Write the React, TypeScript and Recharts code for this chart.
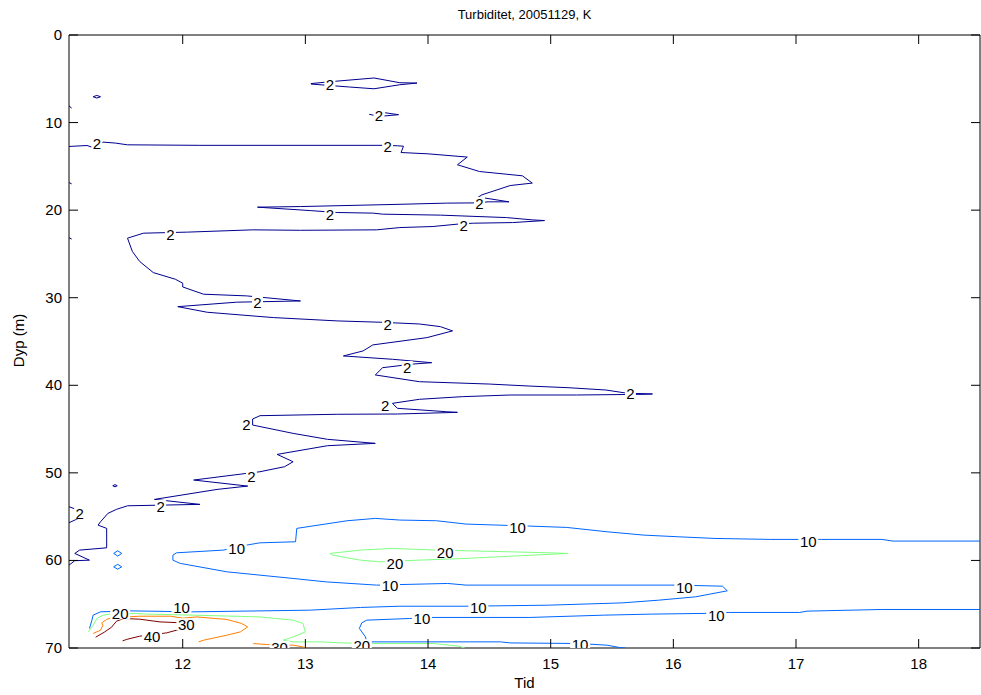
import { ComposedChart, Line, Scatter, XAxis, YAxis, ReferenceArea } from "recharts";

type Pt = [number, number];

const xTicks = [12, 13, 14, 15, 16, 17, 18];
const yTicks = [0, 10, 20, 30, 40, 50, 60, 70];

// level 2 contour pieces
const level2Main: Pt[] = [
  [11.073, 12.73], [11.22, 12.62], [11.27, 12.85], [11.35, 12.23], [11.45, 12.34], [11.55, 12.54],
  [12.14, 12.6], [13.63, 12.6], [13.75, 12.65], [13.8, 12.7], [13.78, 13.42], [14.0, 13.57],
  [14.32, 13.94], [14.24, 14.82], [14.42, 15.59], [14.77, 16.08], [14.85, 16.91], [14.67, 17.19],
  [14.44, 18.25], [14.41, 18.5], [14.66, 19.05], [14.49, 19.05], [14.41, 19.17], [14.15, 19.2],
  [13.69, 19.36], [12.96, 19.59], [12.61, 19.66], [13.04, 20.05], [13.26, 20.27], [13.55, 20.34],
  [13.63, 20.46], [14.1, 20.57], [14.64, 20.85], [14.85, 21.11], [14.95, 21.19], [14.69, 21.42],
  [14.37, 21.49], [14.26, 21.57], [14.04, 21.87], [13.77, 21.99], [13.58, 22.25], [12.96, 22.3],
  [12.57, 22.25], [12.04, 22.51], [11.68, 22.63], [11.55, 23.2], [11.59, 24.73], [11.65, 25.87],
  [11.76, 27.13], [11.94, 27.89], [12.0, 28.34], [12.0, 28.77], [12.17, 29.6], [12.52, 29.79],
  [12.96, 30.37], [12.44, 30.51], [11.96, 31.02], [12.2, 31.66], [12.74, 32.27], [13.26, 32.65],
  [13.61, 32.8], [13.93, 33.0], [14.1, 33.3], [14.2, 33.79], [13.99, 34.56], [13.55, 35.39],
  [13.47, 36.08], [13.31, 36.65], [13.71, 37.03], [14.03, 37.42], [13.88, 37.57], [13.63, 37.99],
  [13.57, 38.82], [13.93, 39.59], [14.5, 39.86], [14.83, 40.09], [15.15, 40.28], [15.45, 40.54],
  [15.62, 40.9], [15.83, 40.99], [15.77, 41.03], [15.21, 41.11], [14.67, 41.11], [14.28, 41.3],
  [13.93, 41.6], [13.71, 42.06], [13.75, 42.63], [14.15, 43.02], [14.24, 43.09], [13.75, 43.28],
  [13.26, 43.31], [12.63, 43.47], [12.57, 43.85], [12.57, 44.54], [12.9, 45.49], [13.18, 46.17],
  [13.57, 46.63], [13.18, 46.9], [12.77, 47.89], [12.9, 48.73], [12.83, 49.3], [12.63, 49.87],
  [12.09, 50.82], [12.53, 51.51], [12.28, 51.89], [11.77, 53.03], [12.14, 53.6], [11.55, 53.76],
  [11.46, 54.17], [11.39, 54.63], [11.33, 55.59], [11.31, 55.97], [11.38, 56.34], [11.38, 58.56],
  [11.16, 58.82], [11.12, 59.2], [11.24, 59.97], [11.12, 60.03], [11.073, 60.54],
];
const level2Top: Pt[] = [
  [13.045, 5.55], [13.23, 5.3], [13.56, 4.91], [13.77, 5.45], [13.91, 5.49],
  [13.77, 5.68], [13.56, 6.14], [13.36, 5.94], [13.045, 5.6],
];
const level2Small: Pt[] = [[13.52, 9.05], [13.6, 9.3], [13.76, 9.1], [13.65, 8.88]];
const level2Dot: Pt[] = [[11.27, 7.05], [11.3, 6.9], [11.33, 7.05], [11.3, 7.2], [11.27, 7.05]];
const level2EdgeA: Pt[] = [[11.073, 8.1], [11.095, 8.35]];
const level2EdgeB: Pt[] = [[11.073, 16.85], [11.095, 17.0]];
const level2EdgeC: Pt[] = [[11.073, 23.15], [11.095, 23.3]];
const level2Left: Pt[] = [[11.073, 53.87], [11.149, 54.25], [11.149, 55.2], [11.073, 55.7]];
const level2Blip: Pt[] = [[11.43, 51.47], [11.448, 51.35], [11.466, 51.47], [11.448, 51.6], [11.43, 51.47]];

// level 10
const level10Upper: Pt[] = [
  [18.5, 57.79], [17.79, 57.79], [17.7, 57.6], [17.21, 57.6], [16.79, 57.6], [16.34, 57.49],
  [16.04, 57.3], [15.76, 57.11], [15.46, 56.73], [15.13, 56.23], [14.83, 56.08], [14.31, 55.85],
  [14.07, 55.47], [13.77, 55.39], [13.57, 55.2], [13.34, 55.47], [12.93, 56.34], [12.92, 57.87],
  [12.63, 57.99], [12.52, 58.25], [12.33, 58.82], [11.95, 59.13], [11.92, 59.39], [11.92, 59.97],
  [11.98, 60.34], [12.36, 61.3], [12.9, 62.06], [13.17, 62.45], [13.58, 62.82], [14.16, 62.63],
  [14.31, 62.82], [16.04, 62.82], [16.4, 62.94], [16.44, 63.47], [16.18, 64.16], [15.88, 64.54],
  [15.58, 64.85], [14.98, 65.11], [14.31, 65.23], [13.77, 65.23], [13.45, 65.37], [13.04, 65.68],
  [12.09, 65.87], [11.57, 65.76], [11.33, 65.87], [11.27, 66.25], [11.26, 66.82], [11.24, 67.77],
];
const level10Lower: Pt[] = [
  [18.5, 65.6], [17.7, 65.6], [17.09, 65.79], [17.03, 65.94], [16.46, 65.94], [16.25, 66.05],
  [15.82, 66.13], [15.43, 66.25], [14.83, 66.51], [14.04, 66.51], [13.85, 66.63], [13.5, 66.82],
  [13.46, 67.13], [13.44, 67.77], [13.49, 68.73], [13.5, 69.3], [13.99, 69.3], [14.59, 69.3],
  [14.67, 69.42], [15.24, 69.49], [15.46, 69.68], [15.56, 69.94], [15.61, 70],
];
const level10DiamondA: Pt[] = [[11.437, 59.2], [11.47, 58.9], [11.503, 59.2], [11.47, 59.5], [11.437, 59.2]];
const level10DiamondB: Pt[] = [[11.437, 60.73], [11.47, 60.45], [11.503, 60.73], [11.47, 61.0], [11.437, 60.73]];

// level 20
const level20Loop: Pt[] = [
  [13.2, 59.2], [13.45, 58.82], [13.71, 58.63], [14.07, 58.82], [14.31, 58.9], [14.68, 59.02],
  [14.98, 59.13], [15.14, 59.2], [14.98, 59.31], [14.68, 59.51], [14.31, 59.77], [13.92, 59.97],
  [13.61, 60.16], [13.45, 59.97], [13.22, 59.39], [13.2, 59.2],
];
const level20Bottom: Pt[] = [
  [11.23, 68.16], [11.27, 67.39], [11.3, 66.63], [11.35, 66.25], [11.41, 66.13], [11.6, 66.05],
  [11.71, 66.13], [12.09, 66.25], [12.63, 66.45], [12.9, 66.82], [12.98, 67.2], [13.0, 68.16],
  [12.9, 68.73], [12.82, 69.11], [12.9, 69.3], [13.12, 69.3], [13.31, 69.42], [13.55, 69.49],
  [14.04, 69.49], [14.26, 69.8], [14.28, 69.94], [14.3, 70],
];

// level 30
const level30Loop: Pt[] = [
  [11.27, 68.34], [11.33, 67.97], [11.35, 67.39], [11.34, 67.13], [11.38, 66.74], [11.43, 66.51],
  [11.54, 66.45], [11.65, 66.37], [11.9, 66.37], [12.0, 66.6], [12.11, 66.45], [12.36, 66.74],
  [12.48, 67.2], [12.53, 67.59], [12.47, 68.16], [12.36, 68.54], [12.17, 69.11], [12.13, 69.3],
];
const level30Bottom: Pt[] = [[12.575, 69.49], [12.68, 69.6], [12.9, 69.68], [12.98, 69.87], [13.0, 70]];

// level 40
const level40: Pt[] = [
  [11.29, 68.77], [11.36, 68.2], [11.42, 67.62], [11.46, 66.94], [11.52, 66.63], [11.65, 66.71],
  [11.815, 67.02], [12.0, 67.13], [12.09, 67.39], [12.09, 67.66], [12.0, 67.77], [11.87, 68.27],
  [11.72, 68.54], [11.65, 68.65], [11.54, 69.03], [11.51, 69.19],
];

// clabel positions
const labels2: Pt[] = [
  [13.2, 5.57], [13.6, 9.1], [11.3, 12.3], [13.67, 12.65], [14.42, 19.17], [13.2, 20.42],
  [14.29, 21.68], [11.9, 22.71], [12.61, 30.48], [13.67, 33.0], [13.83, 37.91], [15.65, 40.88],
  [13.65, 42.25], [12.52, 44.42], [12.56, 50.36], [11.82, 53.79], [11.16, 54.6],
];
const labels10: Pt[] = [
  [14.73, 56.16], [17.1, 57.76], [12.44, 58.63], [13.69, 62.82], [16.09, 63.02],
  [14.41, 65.37], [11.99, 65.3], [13.95, 66.63], [16.35, 66.25], [15.24, 69.49],
];
const labels20: Pt[] = [[14.14, 59.02], [13.73, 60.34], [11.49, 66.05], [13.46, 69.68]];
const labels30: Pt[] = [[12.03, 67.3], [12.79, 69.87]];
const labels40: Pt[] = [[11.75, 68.65]];

const levelColors: Record<number, string> = {
  2: "#00008f",
  10: "#0066ff",
  20: "#80ff80",
  30: "#ff8000",
  40: "#800000",
};

const contours: { level: number; pts: Pt[] }[] = [
  { level: 2, pts: level2Main },
  { level: 2, pts: level2Top },
  { level: 2, pts: level2Small },
  { level: 2, pts: level2Dot },
  { level: 2, pts: level2EdgeA },
  { level: 2, pts: level2EdgeB },
  { level: 2, pts: level2EdgeC },
  { level: 2, pts: level2Left },
  { level: 2, pts: level2Blip },
  { level: 10, pts: level10Upper },
  { level: 10, pts: level10Lower },
  { level: 10, pts: level10DiamondA },
  { level: 10, pts: level10DiamondB },
  { level: 20, pts: level20Loop },
  { level: 20, pts: level20Bottom },
  { level: 30, pts: level30Loop },
  { level: 30, pts: level30Bottom },
  { level: 40, pts: level40 },
];

const labelPoints = [
  ...labels2.map(([x, y]) => ({ x, y, text: "2" })),
  ...labels10.map(([x, y]) => ({ x, y, text: "10" })),
  ...labels20.map(([x, y]) => ({ x, y, text: "20" })),
  ...labels30.map(([x, y]) => ({ x, y, text: "30" })),
  ...labels40.map(([x, y]) => ({ x, y, text: "40" })),
];

const FONT = "'Liberation Sans', Arial, Helvetica, sans-serif";
const PLOT = { left: 69, right: 980, top: 35, bottom: 648 };
const TICK_LEN = 9;

function XTick(props: any) {
  const { x, payload } = props;
  return (
    <g>
      <line x1={x} x2={x} y1={PLOT.bottom} y2={PLOT.bottom - TICK_LEN} stroke="#000" />
      <line x1={x} x2={x} y1={PLOT.top} y2={PLOT.top + TICK_LEN} stroke="#000" />
      <text x={x} y={PLOT.bottom + 21} textAnchor="middle" fontSize={15} fontFamily={FONT} fill="#000">
        {payload.value}
      </text>
    </g>
  );
}

function YTick(props: any) {
  const { y, payload } = props;
  return (
    <g>
      <line x1={PLOT.left} x2={PLOT.left + TICK_LEN} y1={y} y2={y} stroke="#000" />
      <line x1={PLOT.right - TICK_LEN} x2={PLOT.right} y1={y} y2={y} stroke="#000" />
      <text x={PLOT.left - 7} y={y + 5} textAnchor="end" fontSize={15} fontFamily={FONT} fill="#000">
        {payload.value}
      </text>
    </g>
  );
}

function ContourLabel(props: any) {
  const { cx, cy, payload } = props;
  if (cx == null || cy == null) return null;
  const w = payload.text.length * 9 + 2;
  return (
    <g>
      <rect x={cx - w / 2} y={cy - 6} width={w} height={12} fill="#fff" />
      <text x={cx} y={cy + 6} textAnchor="middle" fontSize={15} fontFamily={FONT} fill="#000">
        {payload.text}
      </text>
    </g>
  );
}

export default function App() {
  return (
    <div style={{ position: "relative", width: 981, height: 695, background: "#fff", fontFamily: FONT }}>
      <style>{"body{margin:0}"}</style>
      <div
        style={{
          position: "absolute", left: PLOT.left, width: PLOT.right - PLOT.left, top: 7,
          textAlign: "center", fontSize: 13, lineHeight: "16px", color: "#000",
        }}
      >
        Turbiditet, 20051129, K
      </div>
      <div
        style={{
          position: "absolute", left: PLOT.left, width: PLOT.right - PLOT.left, top: 674,
          textAlign: "center", fontSize: 15, lineHeight: "17px", color: "#000",
        }}
      >
        Tid
      </div>
      <div
        style={{
          position: "absolute", left: -32, width: 100, top: 332, textAlign: "center",
          fontSize: 15, lineHeight: "17px", color: "#000", transform: "rotate(-90deg)",
        }}
      >
        Dyp (m)
      </div>
      <ComposedChart width={981} height={695} margin={{ top: 35, right: 1, bottom: 0, left: 0 }}>
        <XAxis
          type="number"
          dataKey="x"
          domain={[11.073, 18.5]}
          ticks={xTicks}
          interval={0}
          allowDataOverflow
          height={47}
          axisLine={false}
          tickLine={false}
          tick={<XTick />}
        />
        <YAxis
          type="number"
          domain={[0, 70]}
          ticks={yTicks}
          interval={0}
          reversed
          allowDataOverflow
          width={69}
          axisLine={false}
          tickLine={false}
          tick={<YTick />}
        />
        {contours.map((c, i) => (
          <Line
            key={i}
            data={c.pts.map(([x, y]) => ({ x, y }))}
            dataKey="y"
            type="linear"
            stroke={levelColors[c.level]}
            strokeWidth={1}
            dot={false}
            activeDot={false}
            isAnimationActive={false}
            legendType="none"
          />
        ))}
        <Scatter data={labelPoints} dataKey="y" shape={<ContourLabel />} isAnimationActive={false} />
        <ReferenceArea x1={11.073} x2={18.5} y1={0} y2={70} fill="none" stroke="#000" strokeWidth={1} />
      </ComposedChart>
    </div>
  );
}
